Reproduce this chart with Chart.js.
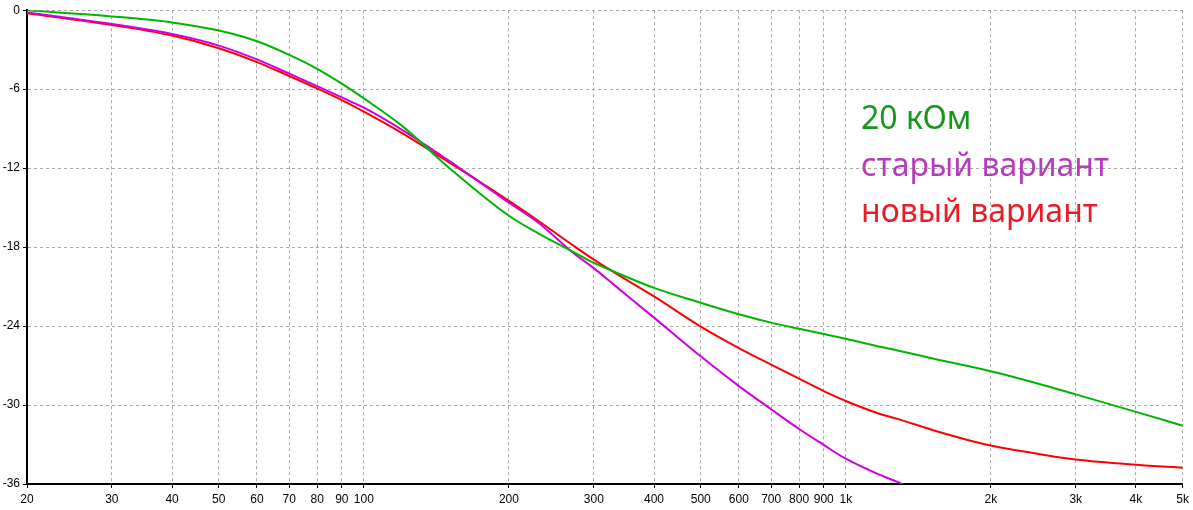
<!DOCTYPE html>
<html>
<head>
<meta charset="utf-8">
<script src="https://cdn.jsdelivr.net/npm/chart.js@4/dist/chart.umd.min.js"></script>
<style>
  html, body { margin: 0; padding: 0; background: #fff; }
  canvas { display: block; }
</style>
</head>
<body>
<canvas id="chart" width="1193" height="510"></canvas>
<script>
// frequencies, Hz
const freqs = [20, 30, 40, 50, 60, 70, 80, 90, 100, 120, 150, 200, 230, 270, 300, 330,
               400, 500, 600, 700, 800, 900, 1000, 1170, 1280, 1530, 2000, 2500, 3000, 4000, 5000];

// response, dB
const green20k = [0.0, -0.47, -0.93, -1.55, -2.36, -3.39, -4.45, -5.58, -6.7, -8.79, -11.95, -15.62, -16.95, -18.3, -19.2, -19.85,
                  -21.1, -22.23, -23.1, -23.74, -24.21, -24.61, -24.97, -25.55, -25.85, -26.5, -27.43, -28.36, -29.19, -30.52, -31.57];
const oldVariant = [-0.17, -1.05, -1.81, -2.69, -3.74, -4.82, -5.77, -6.63, -7.41, -9.09, -11.43, -14.62, -16.13, -18.35, -19.6, -20.85,
                    -23.36, -26.3, -28.56, -30.32, -31.82, -33.03, -34.08, -35.27, -35.84, -37.1];
const newVariant = [-0.23, -1.13, -1.93, -2.89, -3.94, -5.0, -5.95, -6.83, -7.71, -9.34, -11.55, -14.49, -16.0, -17.8, -18.95, -19.9,
                    -21.75, -24.04, -25.67, -26.93, -28.0, -28.94, -29.69, -30.64, -31.05, -31.95, -33.08, -33.7, -34.14, -34.54, -34.76];

const xTicks = [20, 30, 40, 50, 60, 70, 80, 90, 100, 200, 300, 400, 500, 600, 700, 800, 900, 1000, 2000, 3000, 4000, 5000];
const yTicks = [0, -6, -12, -18, -24, -30, -36];

const notes = ['20 кОм', 'старый вариант', 'новый вариант'];
const noteColors = ['#16961a', '#b63cbc', '#ea1c24'];
const lineColors = ['#00b400', '#d000e0', '#ff0000'];

function pts(values) {
    return values.map((v, i) => ({x: freqs[i], y: v}));
}

function fmtFreq(v) {
    return v >= 1000 ? (v / 1000) + 'k' : String(v);
}

const tickFont = {family: '"Liberation Sans", Arial, sans-serif', size: 12};

// the three captions on the right
const notesPlugin = {
    id: 'notes',
    afterDatasetsDraw(chart) {
        const ctx = chart.ctx;
        const baselines = [129, 176, 222];
        ctx.save();
        ctx.font = '32px "Noto Sans", "Open Sans", sans-serif';
        ctx.textBaseline = 'alphabetic';
        notes.forEach((t, i) => {
            ctx.fillStyle = noteColors[i];
            ctx.fillText(t, 861, baselines[i]);
        });
        ctx.restore();
    }
};

new Chart(document.getElementById('chart'), {
    type: 'line',
    data: {
        datasets: [
            {label: notes[0], data: pts(green20k), borderColor: lineColors[0]},
            {label: notes[1], data: pts(oldVariant), borderColor: lineColors[1]},
            {label: notes[2], data: pts(newVariant), borderColor: lineColors[2]}
        ]
    },
    options: {
        responsive: false,
        animation: false,
        devicePixelRatio: 1,
        layout: {padding: {top: 8, right: 8, left: 0, bottom: 0}},
        elements: {
            line: {borderWidth: 2, cubicInterpolationMode: 'monotone', fill: false},
            point: {radius: 0}
        },
        plugins: {legend: {display: false}, tooltip: {enabled: false}},
        scales: {
            x: {
                type: 'logarithmic',
                min: 20,
                max: 5000,
                afterBuildTicks: s => { s.ticks = xTicks.map(v => ({value: v})); },
                afterFit: s => { s.height = 26; },
                ticks: {
                    autoSkip: false, maxRotation: 0, color: '#000', font: tickFont, padding: 4,
                    callback: v => fmtFreq(v)
                },
                grid: {color: '#a8a8a8', tickColor: '#000', tickLength: 4},
                border: {color: '#000', width: 2, dash: [3, 3]}
            },
            y: {
                min: -36,
                max: 0,
                afterBuildTicks: s => { s.ticks = yTicks.map(v => ({value: v})); },
                afterFit: s => { s.width = 27; },
                ticks: {color: '#000', font: tickFont, padding: 3},
                grid: {color: '#a8a8a8', tickColor: '#000', tickLength: 4},
                border: {color: '#000', width: 2, dash: [3, 3]}
            }
        }
    },
    plugins: [notesPlugin]
});
</script>
</body>
</html>
